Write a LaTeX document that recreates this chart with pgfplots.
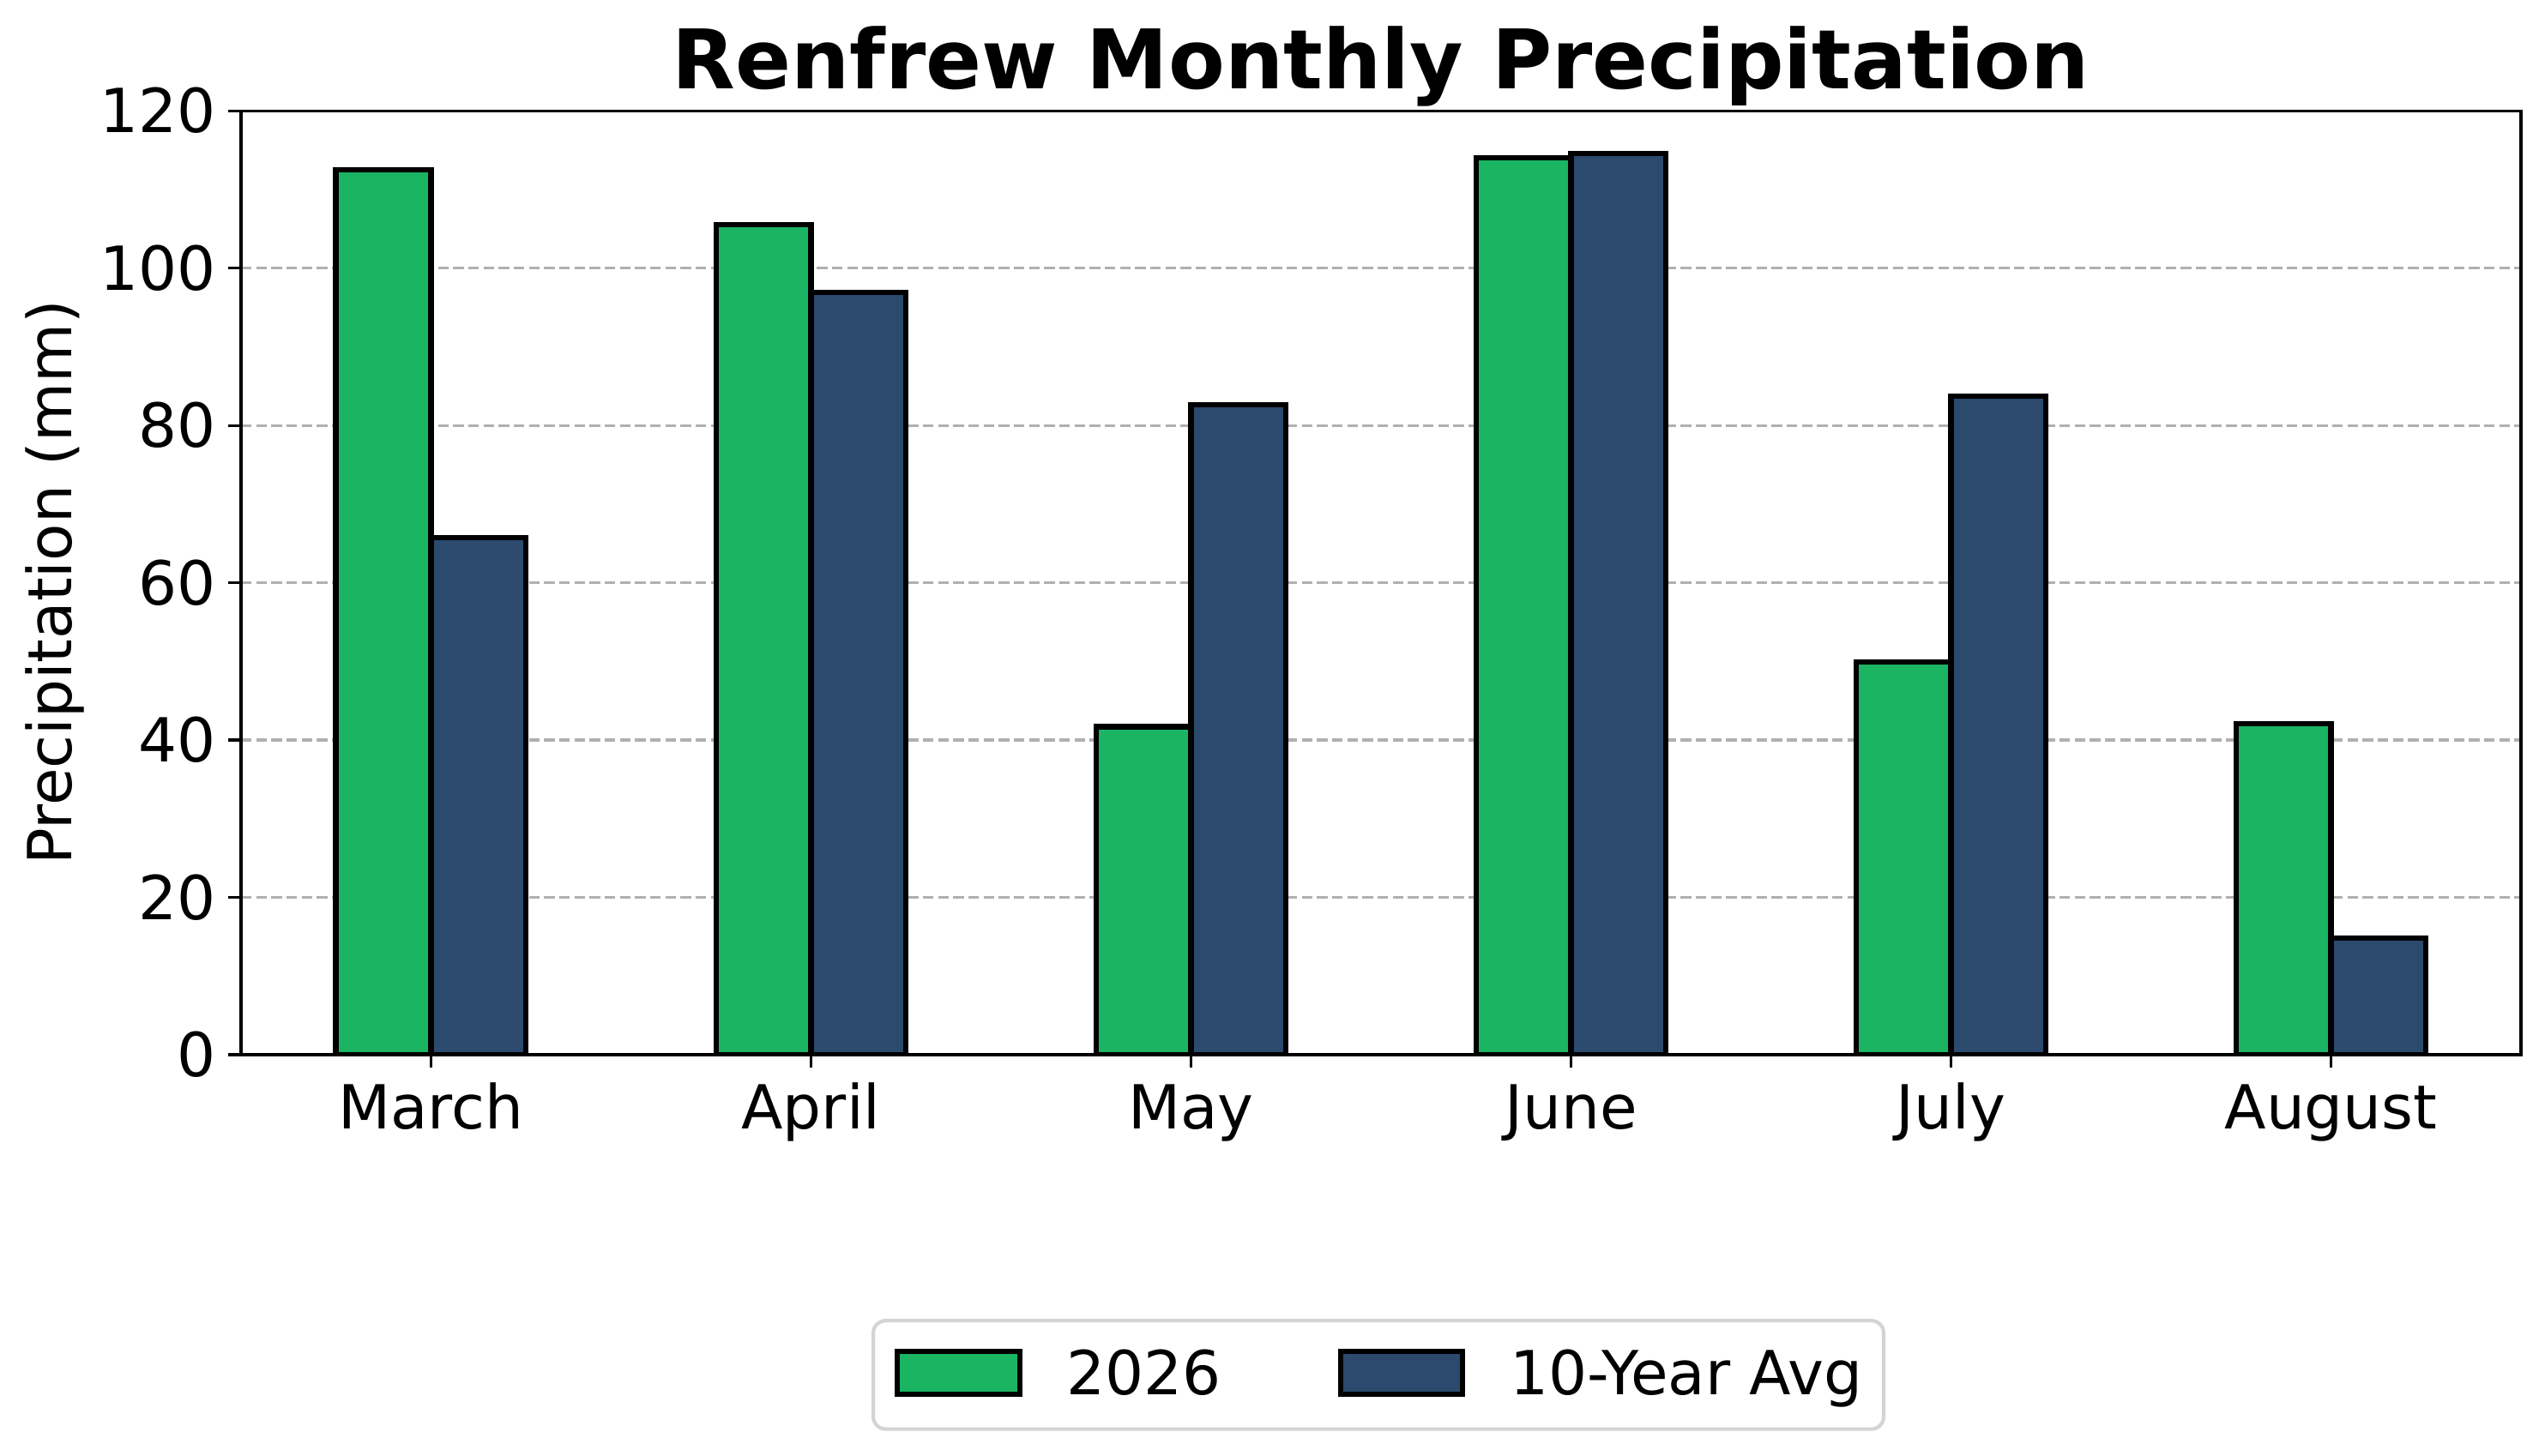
\documentclass[border=0pt]{standalone}
\usepackage{fontspec}
\setmainfont{DejaVu Sans}
\usepackage{pgfplots}
\pgfplotsset{compat=1.18}
\definecolor{cgreen}{HTML}{1AB463}
\definecolor{cnavy}{HTML}{2C4A6E}
\definecolor{cgrid}{HTML}{B0B0B0}
\definecolor{cleg}{HTML}{D4D4D4}
\newcommand\fs{\fontsize{17}{20}\selectfont}
\pgfplotsset{mybarlegend/.style={legend image code/.code={\draw[##1, sharp corners] (0pt,0pt) rectangle (34.2pt,12pt);}}}
\begin{document}
\begin{tikzpicture}
\useasboundingbox (-67.4pt,-112.1pt) rectangle (644.6pt,295.2pt);
\begin{axis}[
  at={(0,0)}, anchor=south west,
  scale only axis, width=637.9pt, height=264.2pt,
  xmin=-0.5, xmax=5.5, ymin=0, ymax=120,
  xtick={0,1,2,3,4,5},
  xticklabels={March,April,May,June,July,August},
  ytick={0,20,...,120},
  tick pos=left, tick align=outside,
  major tick length=3.5pt,
  every tick/.style={black, line width=0.8pt},
  axis line style={black, line width=0.8pt},
  ymajorgrids,
  major grid style={cgrid, line width=0.8pt, dash pattern=on 2.96pt off 1.28pt},
  /pgf/number format/assume math mode=true,
  ticklabel style={font=\fs},
  yticklabel style={anchor=east, inner sep=0pt, xshift=-3.4pt},
  xticklabel style={anchor=base, inner sep=0pt, yshift=-17.3pt},
  title={Renfrew Monthly Precipitation},
  title style={font=\bfseries\fontsize{23}{27}\selectfont, at={(axis description cs:0.5,1)}, anchor=south, yshift=-5pt, inner sep=0pt},
  ylabel={Precipitation (mm)},
  ylabel style={font=\fs, at={(axis description cs:-0.0742,0.5)}, anchor=base, inner sep=0pt},
  legend columns=2,
  legend style={at={(axis description cs:0.4989,-0.339)}, anchor=center,
    draw=cleg, line width=1pt, rounded corners=3.5pt,
    inner xsep=6pt, inner ysep=7.9pt, font=\fs,
    nodes={inner sep=0pt, anchor=base, text height=12.4pt, text depth=1.8pt},
    /tikz/every odd column/.append style={column sep=12.4pt},
    /tikz/every even column/.append style={column sep=32.6pt}},
]
\addplot[ybar, bar width=0.25, bar shift=-0.125, fill=cgreen, draw=black, line width=1.5pt, mybarlegend]
  coordinates {(0,112.5) (1,105.5) (2,41.7) (3,114.0) (4,49.9) (5,42.1)};
\addlegendentry{2026}
\addplot[ybar, bar width=0.25, bar shift=0.125, fill=cnavy, draw=black, line width=1.5pt, mybarlegend]
  coordinates {(0,65.7) (1,96.9) (2,82.6) (3,114.6) (4,83.7) (5,14.8)};
\addlegendentry{10-Year Avg}
\end{axis}
\end{tikzpicture}
\end{document}
